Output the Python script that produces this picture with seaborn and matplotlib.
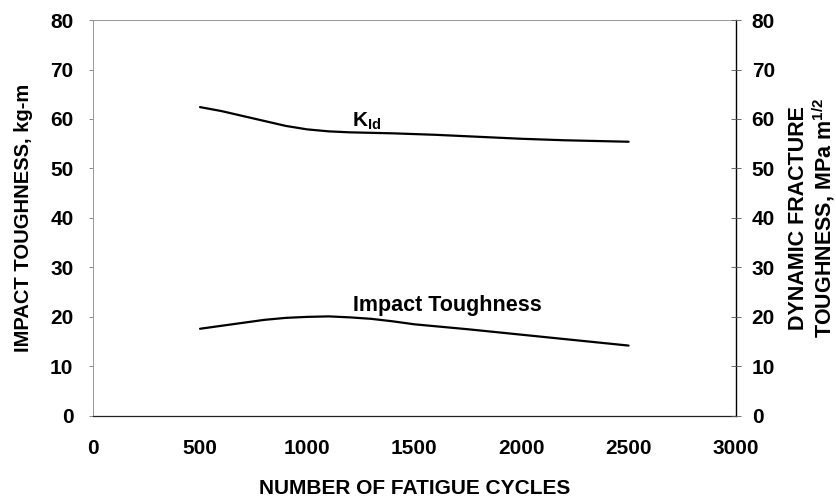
import matplotlib
matplotlib.use("Agg")
import matplotlib.pyplot as plt
import seaborn as sns
import pandas as pd

# values
cycles = [500, 600, 700, 800, 900, 1000, 1100, 1200, 1400, 1600, 1800, 2000, 2200, 2400, 2500]
k_id = [62.4, 61.6, 60.6, 59.6, 58.6, 57.9, 57.5, 57.3, 57.1, 56.8, 56.4, 56.0, 55.7, 55.5, 55.4]

cycles_imp = [500, 600, 700, 800, 900, 1000, 1100, 1200, 1300, 1400, 1500, 1750, 2000, 2250, 2500]
impact = [17.6, 18.2, 18.8, 19.4, 19.8, 20.0, 20.1, 19.9, 19.6, 19.1, 18.5, 17.5, 16.4, 15.3, 14.2]

x_ticks = [0, 500, 1000, 1500, 2000, 2500, 3000]
y_ticks = [0, 10, 20, 30, 40, 50, 60, 70, 80]

sns.set_style("white")
plt.rcParams['font.family'] = ['Liberation Sans', 'DejaVu Sans']
plt.rcParams['font.weight'] = 'bold'
plt.rcParams['text.color'] = 'black'
plt.rcParams['axes.labelcolor'] = 'black'
plt.rcParams['xtick.labelcolor'] = 'black'
plt.rcParams['ytick.labelcolor'] = 'black'
plt.rcParams['mathtext.fontset'] = 'custom'
plt.rcParams['mathtext.rm'] = 'Liberation Sans:bold'
plt.rcParams['mathtext.it'] = 'Liberation Sans:bold'
plt.rcParams['mathtext.bf'] = 'Liberation Sans:bold'

df_k = pd.DataFrame({"cycles": cycles, "kid": k_id})
df_i = pd.DataFrame({"cycles": cycles_imp, "impact": impact})

fig, ax = plt.subplots(figsize=(8.37, 5.01), dpi=100)
fig.subplots_adjust(left=0.111, right=0.879, top=0.96, bottom=0.17)

sns.lineplot(data=df_k, x="cycles", y="kid", ax=ax, color="black", lw=1.6)
sns.lineplot(data=df_i, x="cycles", y="impact", ax=ax, color="black", lw=1.6)

ax.set_xlim(0, 3000)
ax.set_ylim(0, 80)
ax.set_xticks(x_ticks)
ax.set_yticks(y_ticks)
ax.tick_params(labelsize=15, length=3, width=0.6, color="#777777")
ax.tick_params(axis="x", pad=14)
ax.tick_params(axis="y", pad=11)
ax.set_xlabel("NUMBER OF FATIGUE CYCLES", fontsize=15, fontweight="bold", labelpad=15)
ax.set_ylabel("IMPACT TOUGHNESS, kg-m", fontsize=14.5, fontweight="bold", labelpad=12)

for side in ["left", "top"]:
    ax.spines[side].set_color("#999999")
    ax.spines[side].set_linewidth(0.7)
ax.spines["bottom"].set_color("#222222")
ax.spines["bottom"].set_linewidth(0.9)
ax.spines["right"].set_color("black")
ax.spines["right"].set_linewidth(1.0)

ax2 = ax.twinx()
ax2.set_ylim(0, 80)
ax2.set_yticks(y_ticks)
ax2.tick_params(labelsize=15, direction="inout", length=7, width=0.6, color="#555555", pad=8)
ax2.set_ylabel("DYNAMIC FRACTURE\nTOUGHNESS, MPa m$^{1/2}$", fontsize=15.5,
               fontweight="bold", rotation=90, labelpad=9, linespacing=1.1)
for sp in ax2.spines.values():
    sp.set_visible(False)

ax.text(1210, 58.4, "K$_{Id}$", fontsize=15, fontweight="bold")
ax.text(1213, 21.2, "Impact Toughness", fontsize=15.5, fontweight="bold")

fig.savefig("out.png", dpi=100)
plt.close(fig)
